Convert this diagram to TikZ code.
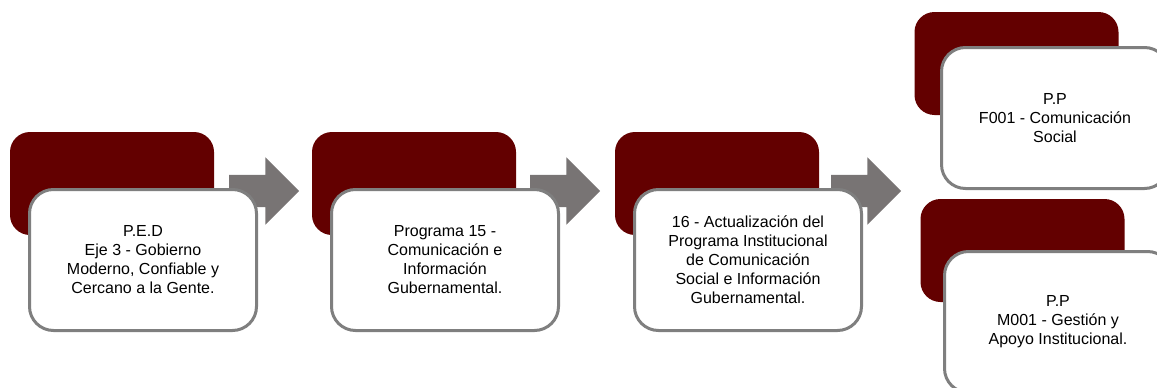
\documentclass[tikz,border=0pt]{standalone}
\usepackage{fontspec}
\setmainfont{Liberation Sans}
\usetikzlibrary{shapes.arrows}
\definecolor{wine}{HTML}{630000}
\definecolor{arrowgray}{HTML}{787474}
\definecolor{cardgray}{HTML}{7F7F7F}
\begin{document}
\begin{tikzpicture}[x=1pt,y=-1pt,
	back/.style={rectangle, rounded corners=20pt, fill=wine, draw=none, minimum width=204pt, minimum height=103pt, inner sep=0},
	card/.style={rectangle, rounded corners=24pt, fill=white, draw=cardgray, line width=3pt, minimum width=227pt, minimum height=141pt, align=center, inner sep=0, font=\fontsize{16}{19}\selectfont},
	flow/.style={single arrow, fill=arrowgray, draw=none, inner xsep=0, inner ysep=16pt, minimum height=70pt, single arrow head extend=17.5pt}]
	\useasboundingbox (0,0) rectangle (1157,388);

	\node [back] (b1) at (112,183.5) {};
	\node [back] (b2) at (414,183.5) {};
	\node [back] (b3) at (717,183.5) {};
	\node [back] (b4) at (1016.5,63.5) {};
	\node [back] (b5) at (1022.5,250.5) {};

	\node [flow] (a1) at (256,191) {};
	\node [flow] (a2) at (557,191) {};
	\node [flow] (a3) at (858,191) {};

	\node [card] (ped) at (143,260) {P.E.D\\Eje 3 - Gobierno\\Moderno, Confiable y\\Cercano a la Gente.};
	\node [card] (prog) at (445,260) {Programa 15 -\\Comunicación e\\Información\\Gubernamental.};
	\node [card] (act) at (748,260) {16 - Actualización del\\Programa Institucional\\de Comunicación\\Social e Información\\Gubernamental.};
	\node [card] (f001) at (1055,118) {P.P\\F001 - Comunicación\\Social};
	\node [card] (m001) at (1058,322) {P.P\\M001 - Gestión y\\Apoyo Institucional.};
\end{tikzpicture}
\end{document}
